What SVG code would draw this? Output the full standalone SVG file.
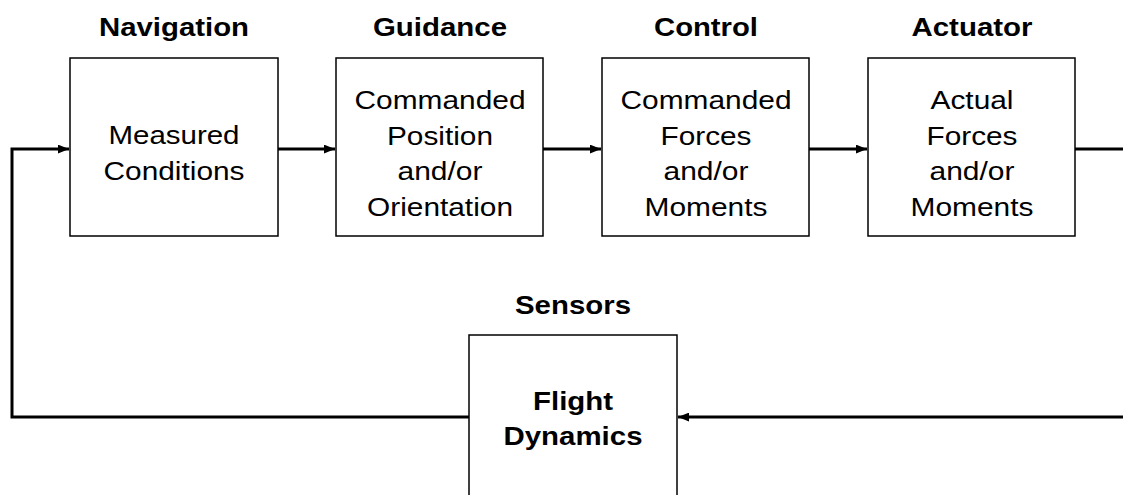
<svg xmlns="http://www.w3.org/2000/svg" width="1123" height="495" viewBox="0 0 1123 495">
<style>
.box{fill:#fff;stroke:#000;stroke-width:1.5}
.t{font-family:"Liberation Sans",Arial,sans-serif;font-size:26px;fill:#000;text-anchor:middle}
.b{font-family:"Liberation Sans",Arial,sans-serif;font-size:25px;font-weight:bold;fill:#000;text-anchor:middle}
.c{fill:none;stroke:#000;stroke-width:3}
</style>
<defs>
<marker id="ah" viewBox="0 0 10 8" refX="10" refY="4" markerWidth="11" markerHeight="9" markerUnits="userSpaceOnUse" orient="auto">
<path d="M0,0 L10,4 L0,8 Z" fill="#000"/>
</marker>
</defs>
<rect width="1123" height="495" fill="#fff"/>
<g id="connectors">
<line class="c" x1="278" y1="149" x2="335" y2="149" marker-end="url(#ah)"/>
<line class="c" x1="543" y1="149" x2="601" y2="149" marker-end="url(#ah)"/>
<line class="c" x1="809" y1="149" x2="867" y2="149" marker-end="url(#ah)"/>
<line class="c" x1="1075" y1="149" x2="1123" y2="149"/>
<line class="c" x1="1123" y1="417" x2="678" y2="417" marker-end="url(#ah)"/>
<polyline class="c" points="469,417 12,417 12,149 69,149" marker-end="url(#ah)"/>
</g>
<g id="navigation">
<text class="b" x="174" y="36" textLength="150" lengthAdjust="spacingAndGlyphs">Navigation</text>
<rect class="box" x="70" y="58" width="208" height="178"/>
<text class="t" x="174" y="144" textLength="131" lengthAdjust="spacingAndGlyphs">Measured</text>
<text class="t" x="174" y="180" textLength="141" lengthAdjust="spacingAndGlyphs">Conditions</text>
</g>
<g id="guidance">
<text class="b" x="440" y="36" textLength="134" lengthAdjust="spacingAndGlyphs">Guidance</text>
<rect class="box" x="336" y="58" width="207" height="178"/>
<text class="t" x="440" y="109" textLength="171" lengthAdjust="spacingAndGlyphs">Commanded</text>
<text class="t" x="440" y="145" textLength="106" lengthAdjust="spacingAndGlyphs">Position</text>
<text class="t" x="440" y="180" textLength="85" lengthAdjust="spacingAndGlyphs">and/or</text>
<text class="t" x="440" y="216" textLength="146" lengthAdjust="spacingAndGlyphs">Orientation</text>
</g>
<g id="control">
<text class="b" x="706" y="36" textLength="104" lengthAdjust="spacingAndGlyphs">Control</text>
<rect class="box" x="602" y="58" width="207" height="178"/>
<text class="t" x="706" y="109" textLength="171" lengthAdjust="spacingAndGlyphs">Commanded</text>
<text class="t" x="706" y="145" textLength="91" lengthAdjust="spacingAndGlyphs">Forces</text>
<text class="t" x="706" y="180" textLength="85" lengthAdjust="spacingAndGlyphs">and/or</text>
<text class="t" x="706" y="216" textLength="123" lengthAdjust="spacingAndGlyphs">Moments</text>
</g>
<g id="actuator">
<text class="b" x="972" y="36" textLength="121" lengthAdjust="spacingAndGlyphs">Actuator</text>
<rect class="box" x="868" y="58" width="207" height="178"/>
<text class="t" x="972" y="109" textLength="83" lengthAdjust="spacingAndGlyphs">Actual</text>
<text class="t" x="972" y="145" textLength="91" lengthAdjust="spacingAndGlyphs">Forces</text>
<text class="t" x="972" y="180" textLength="85" lengthAdjust="spacingAndGlyphs">and/or</text>
<text class="t" x="972" y="216" textLength="123" lengthAdjust="spacingAndGlyphs">Moments</text>
</g>
<g id="sensors">
<text class="b" x="573" y="314" textLength="116" lengthAdjust="spacingAndGlyphs">Sensors</text>
<rect class="box" x="469" y="335" width="208" height="170"/>
<text class="b" x="573" y="410" textLength="80" lengthAdjust="spacingAndGlyphs">Flight</text>
<text class="b" x="573" y="445" textLength="139" lengthAdjust="spacingAndGlyphs">Dynamics</text>
</g>
</svg>
